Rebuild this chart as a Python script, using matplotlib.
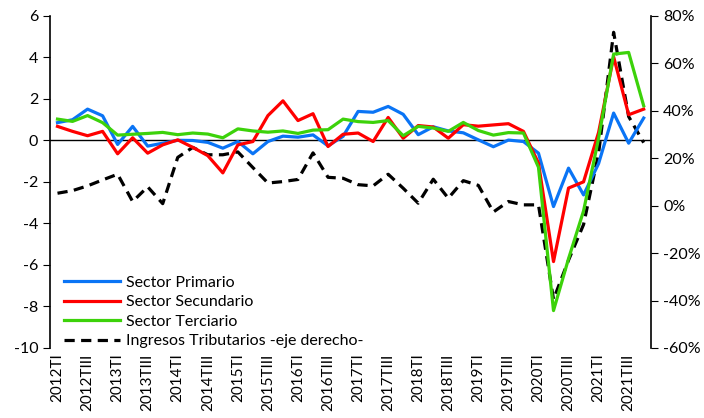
import matplotlib
matplotlib.use("Agg")
import matplotlib.pyplot as plt
from matplotlib.ticker import FuncFormatter

plt.rcParams["font.family"] = ["Lato", "DejaVu Sans"]
plt.rcParams["axes.unicode_minus"] = False

# Quarters 2012TI .. 2021TIV
years = list(range(2012, 2022))
quarter_names = ["TI", "TII", "TIII", "TIV"]
quarters = [f"{y}{q}" for y in years for q in quarter_names]

primario = [0.85, 0.99, 1.50, 1.18, -0.20, 0.67, -0.28, -0.14, 0.00, -0.01,
            -0.10, -0.38, -0.06, -0.65, -0.06, 0.20, 0.15, 0.26, -0.27, 0.19,
            1.39, 1.35, 1.63, 1.25, 0.27, 0.65, 0.45, 0.36, 0.02, -0.31,
            0.01, -0.06, -0.62, -3.19, -1.34, -2.63, -1.12, 1.31, -0.14, 1.07]
secundario = [0.67, 0.43, 0.22, 0.43, -0.65, 0.12, -0.62, -0.22, 0.02, -0.34,
              -0.74, -1.57, -0.22, -0.06, 1.19, 1.90, 0.95, 1.28, -0.30, 0.29,
              0.35, -0.06, 1.10, 0.10, 0.71, 0.64, 0.10, 0.75, 0.68, 0.74,
              0.80, 0.43, -1.10, -5.84, -2.30, -2.00, 0.38, 4.02, 1.23, 1.50]
terciario = [1.02, 0.91, 1.19, 0.85, 0.25, 0.29, 0.33, 0.38, 0.27, 0.35,
             0.30, 0.12, 0.55, 0.45, 0.39, 0.45, 0.33, 0.49, 0.51, 1.02,
             0.90, 0.86, 0.95, 0.22, 0.67, 0.59, 0.43, 0.86, 0.47, 0.25,
             0.37, 0.35, -1.30, -8.20, -5.70, -3.40, 0.10, 4.15, 4.23, 1.66]
tributarios = [5.2, 6.3, 8.3, 10.8, 13.2, 1.7, 7.9, 0.8, 20.3, 24.5,
               21.4, 21.4, 22.6, 16.0, 9.5, 10.1, 11.0, 22.2, 11.9, 11.5,
               8.8, 8.3, 13.2, 7.3, 1.0, 11.1, 3.1, 10.5, 8.5, -2.7,
               1.7, 0.3, 0.3, -39.5, -23.0, -8.0, 22.0, 73.0, 37.5, 26.5]

x = list(range(len(quarters)))

fig = plt.figure(figsize=(7.04, 4.18), dpi=100)
ax = fig.add_axes([0.071, 0.1675, 0.854, 0.795])
ax2 = ax.twinx()

lw = 2.3
l1, = ax.plot(x, primario, color="#0A74F5", lw=lw, label="Sector Primario")
l2, = ax.plot(x, secundario, color="#FF0000", lw=lw, label="Sector Secundario")
l3, = ax.plot(x, terciario, color="#3CD20A", lw=lw, label="Sector Terciario")
l4, = ax2.plot(x, tributarios, color="black", lw=lw, ls=(0, (3.2, 2)),
               label="Ingresos Tributarios -eje derecho-")
ax.set_zorder(ax2.get_zorder() + 1)
ax.patch.set_visible(False)

ax.axhline(0, color="black", lw=1, zorder=1)

ax.set_xlim(-0.5, len(quarters) - 0.5)
ax.set_ylim(-10, 6)
ax.set_yticks(range(-10, 7, 2))
ax2.set_ylim(-60, 80)
ax2.set_yticks(range(-60, 81, 20))
ax2.yaxis.set_major_formatter(FuncFormatter(lambda v, p: f"{v:.0f}%"))

ax.set_xticks(x[::2])
ax.set_xticklabels(quarters[::2], rotation=90)
ax.tick_params(axis="x", length=0, pad=4, labelsize=11)
ax.tick_params(axis="y", direction="out", length=5, labelsize=11.5)
ax2.tick_params(axis="y", direction="out", length=5, labelsize=11.5)

for a in (ax, ax2):
    a.spines["top"].set_visible(False)
    a.spines["bottom"].set_visible(False)
    a.spines["left"].set_linewidth(1.2)
    a.spines["right"].set_linewidth(1.2)
ax.spines["right"].set_visible(False)
ax2.spines["left"].set_visible(False)

ax.legend(handles=[l1, l2, l3, l4], loc="lower left", bbox_to_anchor=(0.005, -0.035),
          frameon=False, fontsize=11.5, handlelength=3.5, handletextpad=0.4,
          labelspacing=0.34, borderaxespad=0.3)

fig.savefig("out.png", dpi=100)
